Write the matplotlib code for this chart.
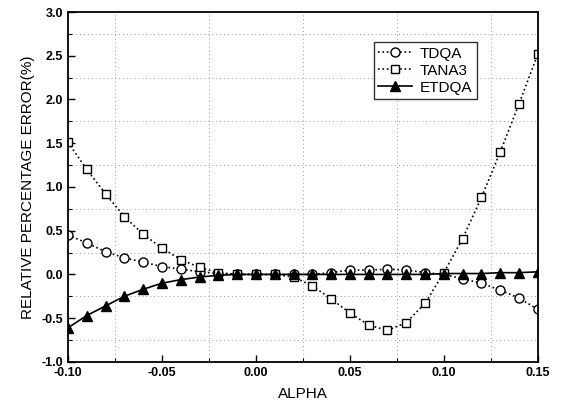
import numpy as np
import matplotlib.pyplot as plt
from matplotlib.ticker import MultipleLocator

plt.rcParams['font.family'] = ['Liberation Sans', 'DejaVu Sans']

# alpha from -0.10 to 0.15 in steps of 0.01
alpha = np.round(np.arange(-0.10, 0.1501, 0.01), 2)

tdqa = [0.45, 0.36, 0.26, 0.19, 0.14, 0.09, 0.06, 0.03, 0.01, 0.0,
        0.0, 0.0, 0.0, 0.0, 0.02, 0.05, 0.05, 0.06, 0.05, 0.02,
        0.0, -0.05, -0.10, -0.18, -0.27, -0.40]
tana3 = [1.51, 1.20, 0.92, 0.66, 0.46, 0.30, 0.17, 0.08, 0.02, 0.0,
         0.0, 0.0, -0.03, -0.13, -0.28, -0.44, -0.58, -0.64, -0.55, -0.33,
         0.02, 0.41, 0.88, 1.40, 1.95, 2.52]
etdqa = [-0.61, -0.47, -0.36, -0.25, -0.17, -0.10, -0.06, -0.03, -0.01, 0.0,
         0.0, 0.0, 0.0, 0.0, 0.0, 0.0, 0.0, 0.0, 0.0, 0.0,
         0.01, 0.01, 0.01, 0.02, 0.02, 0.03]

fig = plt.figure(figsize=(5.62, 4.15), dpi=100)
ax = fig.add_axes([0.121, 0.128, 0.836, 0.843])

ax.plot(alpha, tdqa, linestyle=':', color='black', lw=1.2, marker='o',
        ms=6.5, mfc='white', mec='black', mew=1.0, label='TDQA')
ax.plot(alpha, tana3, linestyle=':', color='black', lw=1.2, marker='s',
        ms=5.5, mfc='white', mec='black', mew=1.0, label='TANA3')
ax.plot(alpha, etdqa, linestyle='-', color='black', lw=1.2, marker='^',
        ms=7, mfc='black', mec='black', label='ETDQA')

ax.set_xlim(-0.10, 0.15)
ax.set_ylim(-1.0, 3.0)
ax.xaxis.set_minor_locator(MultipleLocator(0.025))
ax.yaxis.set_minor_locator(MultipleLocator(0.25))
ax.set_xticks([-0.10, -0.05, 0.00, 0.05, 0.10, 0.15])
ax.set_xticklabels(['-0.10', '-0.05', '0.00', '0.05', '0.10', '0.15'])
ax.set_yticks([-1.0, -0.5, 0.0, 0.5, 1.0, 1.5, 2.0, 2.5, 3.0])
ax.set_yticklabels(['-1.0', '-0.5', '0.0', '0.5', '1.0', '1.5', '2.0', '2.5', '3.0'])

ax.tick_params(which='both', direction='in', top=False, right=False,
               labelsize=9)
ax.tick_params(which='major', length=5, width=1.0)
ax.tick_params(which='minor', length=3, width=0.8)
for lab in ax.get_xticklabels() + ax.get_yticklabels():
    lab.set_fontweight('bold')

ax.grid(which='minor', linestyle=(0, (1, 3)), color='#999999', lw=0.7)

for sp in ax.spines.values():
    sp.set_linewidth(1.3)

ax.set_xlabel('ALPHA', fontsize=11, labelpad=6)
ax.set_ylabel('RELATIVE PERCENTAGE ERROR(%)', fontsize=11, labelpad=5)

leg = ax.legend(loc='upper right', bbox_to_anchor=(0.87, 0.914),
                fontsize=11, frameon=True, fancybox=False,
                edgecolor='black', handlelength=2.2, borderpad=0.3,
                labelspacing=0.2, handletextpad=0.5, borderaxespad=0)
leg.get_frame().set_linewidth(1.0)

fig.savefig('out.png', dpi=100)
